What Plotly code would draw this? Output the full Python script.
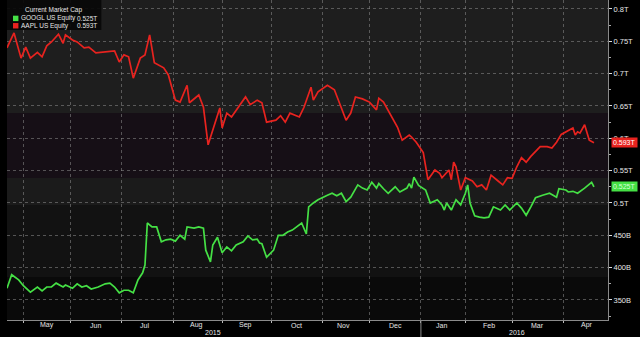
import plotly.graph_objects as go

# ---------------- data ----------------
aapl_dates = ["2015-04-22","2015-04-27","2015-04-30","2015-05-04","2015-05-06","2015-05-11","2015-05-13","2015-05-15","2015-05-19","2015-05-22",
              "2015-05-27","2015-05-28","2015-06-02","2015-06-04","2015-06-09","2015-06-11","2015-06-16","2015-06-19","2015-06-24","2015-06-26",
              "2015-06-30","2015-07-02","2015-07-07","2015-07-09","2015-07-14","2015-07-16","2015-07-20","2015-07-22","2015-07-28","2015-07-30",
              "2015-08-04","2015-08-06","2015-08-11","2015-08-12","2015-08-18","2015-08-20","2015-08-24","2015-08-26","2015-08-31","2015-09-01",
              "2015-09-03","2015-09-08","2015-09-10","2015-09-16","2015-09-18","2015-09-23","2015-09-25","2015-09-29","2015-10-05","2015-10-07",
              "2015-10-09","2015-10-13","2015-10-19","2015-10-21","2015-10-26","2015-10-27","2015-10-29","2015-11-04","2015-11-09","2015-11-12",
              "2015-11-16","2015-11-18","2015-11-20","2015-11-25","2015-12-01","2015-12-04","2015-12-07","2015-12-09","2015-12-14","2015-12-17",
              "2015-12-21","2015-12-24","2015-12-28","2015-12-30","2016-01-05","2016-01-07","2016-01-12","2016-01-14","2016-01-15","2016-01-21",
              "2016-01-22","2016-01-25","2016-01-26","2016-01-28","2016-02-01","2016-02-04","2016-02-08","2016-02-10","2016-02-12","2016-02-17",
              "2016-02-22","2016-02-24","2016-02-26","2016-03-01","2016-03-03","2016-03-07","2016-03-09","2016-03-11","2016-03-17","2016-03-22",
              "2016-03-24","2016-03-29","2016-03-31","2016-04-06","2016-04-07","2016-04-08","2016-04-11","2016-04-12","2016-04-14","2016-04-18",
              "2016-04-20"]
aapl_cap = [0.740,0.763,0.724,0.741,0.724,0.733,0.726,0.743,0.749,0.761,
            0.747,0.760,0.752,0.749,0.740,0.741,0.732,0.733,0.735,0.735,
            0.718,0.729,0.726,0.693,0.724,0.729,0.760,0.717,0.709,0.698,
            0.659,0.656,0.682,0.655,0.667,0.648,0.590,0.613,0.647,0.616,
            0.639,0.633,0.644,0.664,0.652,0.659,0.655,0.625,0.628,0.635,
            0.625,0.639,0.633,0.648,0.679,0.659,0.672,0.682,0.675,0.648,
            0.628,0.639,0.664,0.661,0.656,0.644,0.662,0.656,0.636,0.617,
            0.597,0.605,0.602,0.594,0.578,0.536,0.551,0.546,0.539,0.551,
            0.536,0.563,0.556,0.520,0.539,0.534,0.525,0.528,0.520,0.543,
            0.534,0.528,0.539,0.538,0.556,0.570,0.563,0.572,0.587,0.587,
            0.585,0.594,0.606,0.613,0.616,0.605,0.610,0.608,0.621,0.597,
            0.593]

googl_dates = ["2015-04-22","2015-04-24","2015-04-29","2015-05-01","2015-05-06","2015-05-11","2015-05-13","2015-05-15","2015-05-19","2015-05-21",
               "2015-05-27","2015-05-28","2015-06-02","2015-06-04","2015-06-08","2015-06-10","2015-06-12","2015-06-17","2015-06-22","2015-06-24",
               "2015-06-26","2015-06-30","2015-07-02","2015-07-07","2015-07-09","2015-07-13","2015-07-15","2015-07-16","2015-07-17","2015-07-21",
               "2015-07-23","2015-07-27","2015-07-29","2015-07-31","2015-08-04","2015-08-06","2015-08-10","2015-08-11","2015-08-14","2015-08-18",
               "2015-08-20","2015-08-21","2015-08-25","2015-08-26","2015-08-28","2015-09-01","2015-09-03","2015-09-08","2015-09-10","2015-09-15",
               "2015-09-17","2015-09-21","2015-09-23","2015-09-24","2015-09-25","2015-09-29","2015-10-02","2015-10-06","2015-10-08","2015-10-12",
               "2015-10-14","2015-10-16","2015-10-20","2015-10-22","2015-10-23","2015-10-27","2015-10-29","2015-11-04","2015-11-06","2015-11-10",
               "2015-11-12","2015-11-16","2015-11-18","2015-11-23","2015-11-25","2015-11-30","2015-12-02","2015-12-04","2015-12-07","2015-12-09",
               "2015-12-11","2015-12-16","2015-12-18","2015-12-23","2015-12-24","2015-12-28","2015-12-29","2015-12-31","2016-01-06","2016-01-08",
               "2016-01-13","2016-01-15","2016-01-19","2016-01-20","2016-01-22","2016-01-26","2016-01-28","2016-02-01","2016-02-02","2016-02-03",
               "2016-02-05","2016-02-09","2016-02-11","2016-02-16","2016-02-18","2016-02-23","2016-02-25","2016-02-29","2016-03-03","2016-03-07",
               "2016-03-09","2016-03-11","2016-03-15","2016-03-18","2016-03-23","2016-03-29","2016-03-30","2016-04-04","2016-04-05","2016-04-07",
               "2016-04-11","2016-04-14","2016-04-19","2016-04-20"]
googl_cap = [0.368,0.389,0.381,0.372,0.362,0.370,0.364,0.370,0.370,0.376,
             0.370,0.373,0.368,0.375,0.370,0.372,0.367,0.370,0.375,0.376,
             0.370,0.361,0.365,0.365,0.361,0.381,0.392,0.404,0.469,0.463,
             0.463,0.440,0.443,0.444,0.441,0.450,0.444,0.463,0.461,0.463,
             0.461,0.427,0.409,0.435,0.447,0.423,0.432,0.426,0.435,0.440,
             0.449,0.443,0.444,0.438,0.437,0.416,0.427,0.450,0.450,0.455,
             0.458,0.463,0.469,0.452,0.494,0.500,0.505,0.512,0.515,0.511,
             0.515,0.502,0.509,0.528,0.523,0.520,0.532,0.523,0.530,0.522,
             0.515,0.525,0.517,0.523,0.530,0.523,0.540,0.527,0.520,0.500,
             0.505,0.497,0.489,0.500,0.489,0.505,0.497,0.515,0.528,0.500,
             0.480,0.478,0.477,0.478,0.494,0.489,0.497,0.489,0.500,0.492,
             0.481,0.494,0.508,0.512,0.515,0.509,0.522,0.520,0.517,0.518,
             0.515,0.523,0.532,0.525]

holidays = ["2015-05-25","2015-07-03","2015-09-07","2015-11-26","2015-12-25",
            "2016-01-01","2016-01-18","2016-02-15","2016-03-25"]

month_starts = ["2015-05-01","2015-06-01","2015-07-01","2015-08-03","2015-09-01","2015-10-01",
                "2015-11-02","2015-12-01","2016-01-04","2016-02-01","2016-03-01","2016-04-01"]
month_mids = ["2015-05-15","2015-06-16","2015-07-16","2015-08-17","2015-09-16","2015-10-16",
              "2015-11-13","2015-12-16","2016-01-15","2016-02-16","2016-03-16","2016-04-15"]
month_labels = ["May","Jun","Jul","Aug","Sep","Oct","Nov","Dec","Jan","Feb","Mar","Apr"]
year_pos = ["2015-08-26","2016-03-03"]
year_labels = ["2015","2016"]

y_ticks = [0.35,0.40,0.45,0.50,0.55,0.60,0.65,0.70,0.75,0.80]
y_tick_labels = ["350B","400B","450B","0.5T","0.55T","0.6T","0.65T","0.7T","0.75T","0.8T"]

legend_title = "Current Market Cap"
series_names = ["GOOGL US Equity","AAPL US Equity"]

# ---------------- styling ----------------
RED = "#e8231f"
GREEN = "#45e045"
FONT = "Liberation Sans"
TXT = "#e6e6e6"

fig = go.Figure()
fig.add_trace(go.Scatter(x=aapl_dates, y=aapl_cap, mode="lines",
                         line=dict(color=RED, width=1.7), name=series_names[1]))
fig.add_trace(go.Scatter(x=googl_dates, y=googl_cap, mode="lines",
                         line=dict(color=GREEN, width=1.7), name=series_names[0]))

# background bands
bands = [(0.639, 0.9, "#1e1e1e"), (0.5386, 0.639, "#160f16"), (0.497, 0.5386, "#1b1b1b"),
         (0.3855, 0.497, "#121212"), (0.0, 0.3855, "#0a0a0a")]
shapes = []
for y0, y1, c in bands:
    shapes.append(dict(type="rect", xref="paper", yref="y", x0=0, x1=1, y0=y0, y1=y1,
                       fillcolor=c, line=dict(width=0), layer="below"))
# legend box
shapes.append(dict(type="rect", xref="paper", yref="paper", x0=0.0, x1=0.157, y0=0.906, y1=1.0,
                   fillcolor="rgba(8,8,8,0.92)", line=dict(width=0), layer="above"))
shapes.append(dict(type="rect", xref="paper", yref="paper", x0=0.010, x1=0.019, y0=0.934, y1=0.951,
                   fillcolor=GREEN, line=dict(width=0), layer="above"))
shapes.append(dict(type="rect", xref="paper", yref="paper", x0=0.010, x1=0.019, y0=0.911, y1=0.928,
                   fillcolor=RED, line=dict(width=0), layer="above"))
# year separator
shapes.append(dict(type="line", xref="x", yref="paper", x0="2016-01-01", x1="2016-01-01",
                   y0=0, y1=-0.06, line=dict(color="#8a8a8a", width=1)))

ann = []
for d, lab in zip(month_mids, month_labels):
    ann.append(dict(x=d, y=-0.016, xref="x", yref="paper", text=lab, showarrow=False,
                    xanchor="center", yanchor="middle", borderpad=0,
                    font=dict(family=FONT, size=7, color=TXT)))
for d, lab in zip(year_pos, year_labels):
    ann.append(dict(x=d, y=-0.038, xref="x", yref="paper", text=lab, showarrow=False,
                    xanchor="center", yanchor="middle", borderpad=0,
                    font=dict(family=FONT, size=7, color=TXT)))

# legend texts
LF = dict(family=FONT, size=6.5, color=TXT)
ann.append(dict(x=0.078, y=0.969, xref="paper", yref="paper", text=legend_title,
                xanchor="center", yanchor="middle", borderpad=0, showarrow=False, font=LF))
last_g = googl_cap[-1]
last_a = aapl_cap[-1]
ann.append(dict(x=0.022, y=0.943, xref="paper", yref="paper", text=series_names[0], xanchor="left",
                yanchor="middle", borderpad=0, showarrow=False, font=LF))
ann.append(dict(x=0.152, y=0.943, xref="paper", yref="paper", text=f"{last_g:.3f}T", xanchor="right",
                yanchor="middle", borderpad=0, showarrow=False, font=LF))
ann.append(dict(x=0.022, y=0.920, xref="paper", yref="paper", text=series_names[1], xanchor="left",
                yanchor="middle", borderpad=0, showarrow=False, font=LF))
ann.append(dict(x=0.152, y=0.920, xref="paper", yref="paper", text=f"{last_a:.3f}T", xanchor="right",
                yanchor="middle", borderpad=0, showarrow=False, font=LF))

# value tags on right axis
ann.append(dict(x=1, y=last_a, xref="paper", yref="y", text=f"{last_a:.3f}T", xanchor="left", xshift=3,
                yanchor="middle", showarrow=False, bgcolor=RED, borderpad=1,
                font=dict(family=FONT, size=7, color="#ffffff")))
ann.append(dict(x=1, y=last_g, xref="paper", yref="y", text=f"{last_g:.3f}T", xanchor="left", xshift=3,
                yanchor="middle", showarrow=False, bgcolor=GREEN, borderpad=1,
                font=dict(family=FONT, size=7, color="#d8ffd8")))

fig.update_layout(
    width=640, height=337,
    margin=dict(l=7, r=32, t=0, b=17),
    paper_bgcolor="#000000", plot_bgcolor="#0a0a0a",
    showlegend=False,
    shapes=shapes, annotations=ann,
    xaxis=dict(
        type="date", range=["2015-04-22", "2016-04-28"],
        rangebreaks=[dict(bounds=["sat", "mon"]), dict(values=holidays)],
        tickvals=month_starts, showticklabels=False,
        showgrid=True, gridcolor="rgba(140,140,140,0.55)", gridwidth=1, griddash="dot",
        showline=True, linecolor="#8a8a8a", linewidth=1,
        ticks="outside", ticklen=2, tickcolor="#bbbbbb",
        zeroline=False, fixedrange=True,
    ),
    yaxis=dict(
        side="right", range=[0.319, 0.8139],
        tickvals=y_ticks, ticktext=y_tick_labels,
        tickfont=dict(family=FONT, size=7.5, color=TXT),
        ticks="outside", ticklen=3, tickcolor="#dddddd",
        minor=dict(dtick=0.025, tick0=0.35, ticklen=2, tickcolor="#aaaaaa", ticks="outside", showgrid=False),
        showgrid=True, gridcolor="rgba(140,140,140,0.55)", gridwidth=1, griddash="dot",
        showline=True, linecolor="#8a8a8a", linewidth=1,
        zeroline=False, fixedrange=True,
    ),
)

fig.write_html("out.html")
